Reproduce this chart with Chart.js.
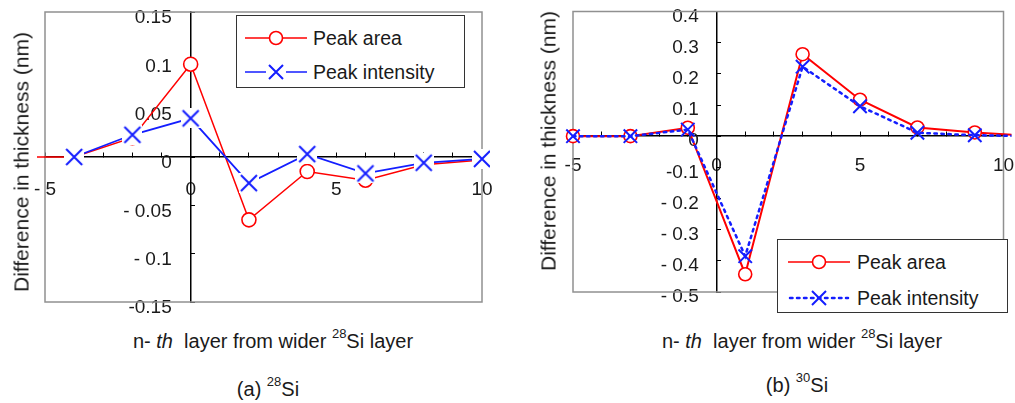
<!DOCTYPE html>
<html>
<head>
<meta charset="utf-8">
<script src="https://cdn.jsdelivr.net/npm/chart.js@4.4.1/dist/chart.umd.min.js"></script>
<style>
  body { margin: 0; width: 1015px; height: 403px; background: #fff; position: relative; overflow: hidden;
         font-family: "Liberation Sans", Arial, sans-serif; color: #1a1a1a; }
  canvas { position: absolute; top: 0; }
  #chartA { left: 0; }
  #chartB { left: 500px; }
  .label { position: absolute; white-space: nowrap; line-height: 1; transform: translate(-50%, -50%); }
  .ytitle { font-size: 21px; transform: translate(-50%, -50%) rotate(-90deg); }
  .xtitle, .caption { font-size: 20px; }
  sup { font-size: 0.65em; vertical-align: 0.75em; line-height: 0; }
  .legend { position: absolute; background: #fff; border: 1.5px solid #333; box-sizing: border-box; z-index: 2; }
  .legend .row { position: absolute; left: 0; height: 24px; display: flex; align-items: center; font-size: 19.5px; }
  .legend svg { display: block; }
</style>
</head>
<body>
<canvas id="chartA" width="500" height="322"></canvas>
<canvas id="chartB" width="515" height="322"></canvas>

<div class="label ytitle" style="left:21px; top:162px;">Difference in thickness (nm)</div>
<div class="label ytitle" style="left:548px; top:141px;">Difference in thickness (nm)</div>
<div class="label xtitle" style="left:273px; top:341px;">n- <i>th</i>&nbsp; layer from wider <sup>28</sup>Si layer</div>
<div class="label xtitle" style="left:802px; top:341px;">n- <i>th</i>&nbsp; layer from wider <sup>28</sup>Si layer</div>
<div class="label caption" style="left:268px; top:389px;">(a) <sup>28</sup>Si</div>
<div class="label caption" style="left:797px; top:385px;">(b) <sup>30</sup>Si</div>

<div class="legend" id="legendA" style="left:236px; top:15px; width:229px; height:73px;"></div>
<div class="legend" id="legendB" style="left:777px; top:239px; width:231px; height:74px;"></div>

<script>
// series names
const seriesNames = ['Peak area', 'Peak intensity'];

// (a) 28Si
const leftLayers = [-6, -4, -2, 0, 2, 4, 6, 8, 10];
const leftPeakArea = [0, 0, 0.02, 0.096, -0.065, -0.015, -0.024, -0.008, -0.003];
const leftPeakIntensity = [null, 0, 0.023, 0.04, -0.027, 0.003, -0.017, -0.006, -0.002];
const leftXTickValues = [-5, 0, 5, 10];
const leftXTickLabels = ['- 5', '0', '5', '10'];
const leftYTickLabels = ['-0.15', '- 0.1', '- 0.05', '0', '0.05', '0.1', '0.15'];

// (b) 30Si
const rightLayers = [-5, -3, -1, 1, 3, 5, 7, 9, 11];
const rightPeakArea = [0, 0, 0.027, -0.443, 0.263, 0.117, 0.028, 0.012, 0];
const rightPeakIntensity = [0, 0, 0.021, -0.385, 0.223, 0.096, 0.011, 0.003, 0];
const rightXTickValues = [-5, 0, 5, 10];
const rightXTickLabels = ['-5', '0', '5', '10'];
const rightYTickLabels = ['- 0.5', '- 0.4', '- 0.3', '- 0.2', '-0.1', '0', '0.1', '0.2', '0.3', '0.4'];

const RED = 'rgb(255, 0, 0)';
const BLUE = 'rgb(20, 30, 255)';
const tickFont = { family: '"Liberation Sans", Arial, sans-serif', size: 19 };

// X marker with a white box behind it (the left chart's markers blank out what is under them)
function boxedCross(color) {
    const c = document.createElement('canvas');
    c.width = 20;
    c.height = 20;
    const g = c.getContext('2d');
    g.fillStyle = '#fff';
    g.fillRect(0, 0, 20, 20);
    g.strokeStyle = color;
    g.lineWidth = 2;
    g.beginPath();
    g.moveTo(2, 2); g.lineTo(18, 18);
    g.moveTo(2, 18); g.lineTo(18, 2);
    g.stroke();
    return c;
}

function zeroPad(scale) {
    scale.paddingLeft = 0;
    scale.paddingRight = 0;
    scale.paddingTop = 0;
    scale.paddingBottom = 0;
}

const plotBox = {
    id: 'plotBox',
    beforeDatasetsDraw(chart) {
        const a = chart.chartArea;
        const ctx = chart.ctx;
        ctx.save();
        ctx.strokeStyle = '#909090';
        ctx.lineWidth = 1.5;
        ctx.strokeRect(a.left, a.top, a.right - a.left, a.bottom - a.top);
        ctx.restore();
    }
};

function makeChart(id, o) {
    const toPoints = (ys) => o.layers.map((x, i) => ({ x: x, y: ys[i] }));
    return new Chart(document.getElementById(id), {
        type: 'line',
        data: {
            datasets: [
                {
                    label: seriesNames[0],
                    data: toPoints(o.area),
                    borderColor: RED,
                    borderWidth: o.redWidth,
                    pointStyle: 'circle',
                    pointRadius: o.circleRadius,
                    pointBorderWidth: 1.6,
                    pointBorderColor: RED,
                    pointBackgroundColor: '#fff',
                    tension: 0,
                    clip: 8,
                    order: 1
                },
                {
                    label: seriesNames[1],
                    data: toPoints(o.intensity),
                    borderColor: BLUE,
                    borderWidth: o.blueWidth,
                    borderDash: o.blueDash,
                    borderCapStyle: 'round',
                    pointStyle: o.crossStyle,
                    pointRadius: o.crossRadius,
                    pointBorderWidth: 2,
                    pointBorderColor: BLUE,
                    tension: 0,
                    spanGaps: false,
                    clip: 8,
                    order: 0
                }
            ]
        },
        options: {
            responsive: false,
            animation: false,
            layout: { padding: o.padding },
            plugins: { legend: { display: false }, tooltip: { enabled: false } },
            scales: {
                x: {
                    type: 'linear',
                    min: -5,
                    max: 10,
                    position: { y: 0 },
                    border: { display: true, color: '#000', width: 1.5 },
                    grid: { display: true, drawOnChartArea: false, drawTicks: true, tickLength: -5, tickColor: '#000', tickWidth: 1 },
                    ticks: {
                        stepSize: 1,
                        autoSkip: false,
                        maxRotation: 0,
                        padding: o.xLabelPadding,
                        font: tickFont,
                        color: '#1a1a1a',
                        callback: (v) => {
                            const i = o.xTickValues.indexOf(v);
                            return i >= 0 ? o.xTickLabels[i] : '';
                        }
                    },
                    afterFit: zeroPad
                },
                y: {
                    type: 'linear',
                    min: o.yMin,
                    max: o.yMax,
                    position: { x: o.labelAxisAt },
                    border: { display: false },
                    grid: { display: false },
                    ticks: {
                        stepSize: o.yStep,
                        autoSkip: false,
                        labelOffset: o.yLabelOffset,
                        font: tickFont,
                        color: '#1a1a1a',
                        callback: (v, i) => o.yTickLabels[i]
                    },
                    afterFit: zeroPad
                },
                y2: {
                    axis: 'y',
                    type: 'linear',
                    min: o.yMin,
                    max: o.yMax,
                    position: { x: 0 },
                    border: { display: true, color: '#000', width: 1.5 },
                    grid: { display: true, drawOnChartArea: false, drawTicks: true, tickLength: -5, tickColor: '#000', tickWidth: 1 },
                    ticks: { stepSize: o.yStep, autoSkip: false, display: false },
                    afterFit: zeroPad
                }
            }
        },
        plugins: [plotBox]
    });
}

makeChart('chartA', {
    layers: leftLayers, area: leftPeakArea, intensity: leftPeakIntensity,
    xTickValues: leftXTickValues, xTickLabels: leftXTickLabels, yTickLabels: leftYTickLabels,
    yMin: -0.15, yMax: 0.15, yStep: 0.05, labelAxisAt: -0.65, yLabelOffset: 6,
    xLabelPadding: 26.6, padding: { left: 45, top: 8, right: 18, bottom: 20 },
    redWidth: 1.5, blueWidth: 1.8, blueDash: [], circleRadius: 7,
    crossStyle: boxedCross(BLUE), crossRadius: 10
});

makeChart('chartB', {
    layers: rightLayers, area: rightPeakArea, intensity: rightPeakIntensity,
    xTickValues: rightXTickValues, xTickLabels: rightXTickLabels, yTickLabels: rightYTickLabels,
    yMin: -0.5, yMax: 0.4, yStep: 0.1, labelAxisAt: -0.62, yLabelOffset: 5,
    xLabelPadding: 23.6, padding: { left: 73, top: 10, right: 7.5, bottom: 30 },
    redWidth: 2, blueWidth: 2.5, blueDash: [2.5, 4.5], circleRadius: 6.5,
    crossStyle: 'crossRot', crossRadius: 9.5
});

// legends (html), symbols drawn to match the series styles
function symbolSvg(kind, dotted, boxed, color) {
    const line = dotted
        ? `<line x1="2" y1="12" x2="60" y2="12" stroke="${color}" stroke-width="2.5" stroke-dasharray="2.5 4.5" stroke-linecap="round"/>`
        : `<line x1="0" y1="12" x2="62" y2="12" stroke="${color}" stroke-width="1.6"/>`;
    let marker;
    if (kind === 'circle') {
        marker = `<circle cx="31" cy="12" r="6.5" fill="#fff" stroke="${color}" stroke-width="1.6"/>`;
    } else {
        marker = (boxed ? '<rect x="21" y="2" width="20" height="20" fill="#fff"/>' : '') +
            `<path d="M24 5 L38 19 M24 19 L38 5" stroke="${color}" stroke-width="2"/>`;
    }
    return `<svg width="62" height="24" viewBox="0 0 62 24">${line}${marker}</svg>`;
}

function buildLegend(id, rowCenters, symLeft, textLeft, dottedBlue, boxedBlue) {
    const el = document.getElementById(id);
    const kinds = ['circle', 'cross'];
    const colors = [RED, BLUE];
    seriesNames.forEach((name, i) => {
        const row = document.createElement('div');
        row.className = 'row';
        row.style.top = (rowCenters[i] - 12) + 'px';
        row.style.left = symLeft + 'px';
        row.innerHTML = symbolSvg(kinds[i], dottedBlue && i === 1, boxedBlue && i === 1, colors[i]) +
            `<span style="margin-left:${textLeft - symLeft - 62}px">${name}</span>`;
        el.appendChild(row);
    });
}

buildLegend('legendA', [22, 56], 8, 76, false, true);
buildLegend('legendB', [22, 58], 10, 79, true, false);
</script>
</body>
</html>
